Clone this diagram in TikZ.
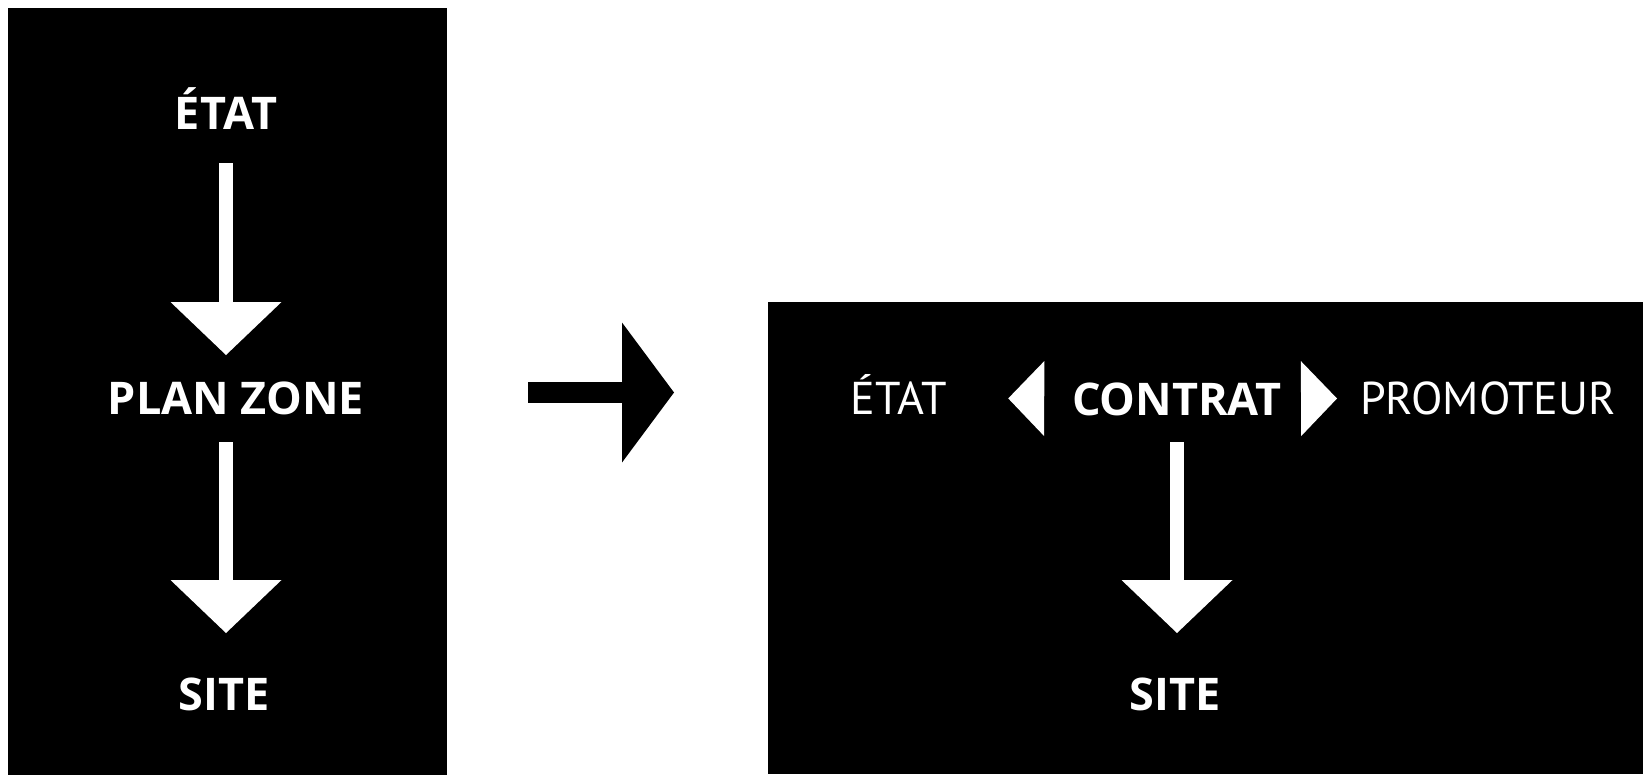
\documentclass[tikz,border=0pt]{standalone}
\usepackage{fontspec}
\setmainfont{PT Sans}
\newfontfamily\headsans{Open Sans}
\usetikzlibrary{arrows.meta,positioning}

\begin{document}
\begin{tikzpicture}[
    x=1pt, y=-1pt,
    panel/.style={rectangle, fill=black, draw=none, inner sep=0pt, outer sep=0pt},
    word/.style={text=white, inner sep=0pt, outer sep=0pt, anchor=base, text height=32pt, text depth=0pt, font=\fontsize{46}{46}\selectfont},
    boldword/.style={word, font=\fontsize{45}{45}\selectfont\headsans\bfseries},
    downarrow/.style={draw=white, line width=14pt, -{Triangle[width=111pt, length=53pt, line width=0pt]}},
    sidetip/.style={draw=white, line width=0.01pt, -{Triangle[width=75pt, length=36pt, line width=0pt]}},
    bigarrow/.style={draw=black, line width=21pt, -{Triangle[width=140pt, length=52pt, line width=0pt]}}
]
    \useasboundingbox (0,0) rectangle (1643,774);

    % Panels
    \node[panel, minimum width=439pt, minimum height=769pt] (leftpanel) at (227.5,392.5) {};
    \node[panel, minimum width=875pt, minimum height=472pt] (rightpanel) at (1205.5,538) {};

    % Left column
    \node[boldword, minimum width=93pt] (etatL) at (226,129) {ÉTAT};
    \node[boldword, minimum width=246pt] (planL) at (236,414) {PLAN ZONE};
    \node[boldword, minimum width=90pt] (siteL) at (224,710) {SITE};

    % Right row
    \node[boldword, minimum width=205pt] (contrat) at (1177,415) {CONTRAT};
    \node[word, minimum width=88pt] (etatR) at (899,414) {ÉTAT};
    \node[word, minimum width=260pt] (promoteur) at (1488,414) {PROMOTEUR};
    \node[boldword, minimum width=89pt] (siteR) at (1175,710) {SITE};

    % Arrows
    \draw[downarrow, shorten <=34pt, shorten >=43pt] (etatL) -- (etatL |- planL);
    \draw[downarrow, shorten <=44pt, shorten >=45pt] (planL -| etatL) -- (etatL |- siteL.north);
    \draw[bigarrow, shorten <=81pt, shorten >=94pt] (leftpanel) -- (leftpanel -| rightpanel.west);
    \draw[sidetip, shorten <=34.5pt, shorten >=61pt] (contrat) -- (etatR);
    \draw[sidetip, shorten <=21.5pt, shorten >=21pt] (contrat) -- (promoteur);
    \draw[downarrow, shorten <=27pt, shorten >=45pt] (contrat) -- (contrat |- siteR.north);
\end{tikzpicture}
\end{document}
